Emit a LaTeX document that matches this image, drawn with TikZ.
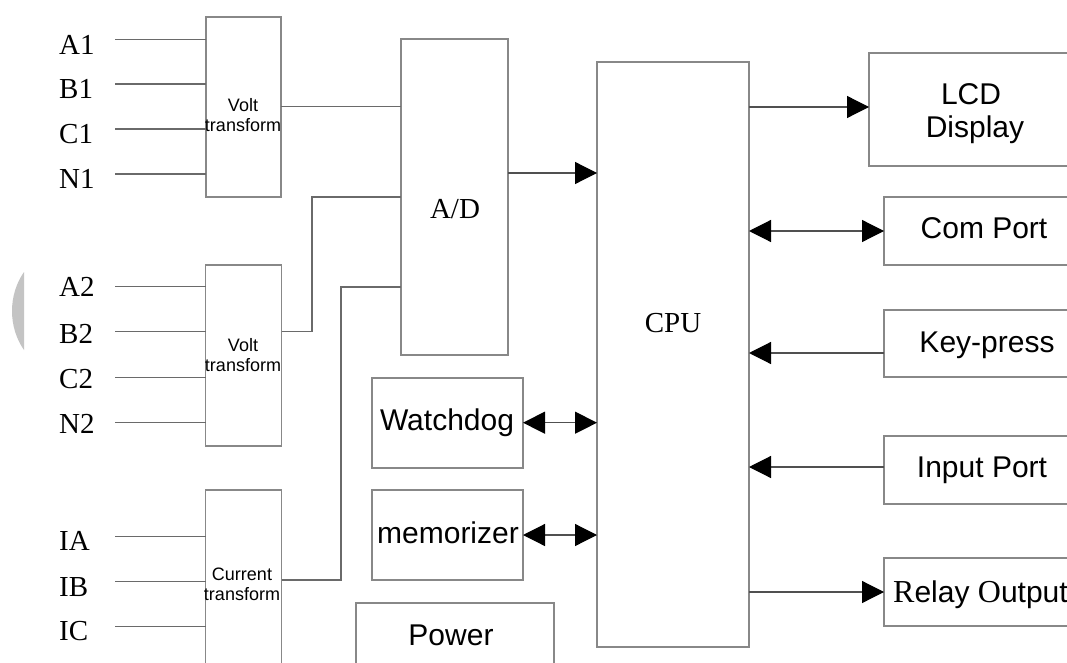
\documentclass[tikz,border=0pt]{standalone}
\usepackage{fontspec}
\setmainfont{Liberation Serif}
\setsansfont{Liberation Sans}
\newfontfamily\serifR{Liberation Serif}
\newfontfamily\sansT{Liberation Sans}
\usetikzlibrary{arrows.meta,calc}
\definecolor{wiregray}{HTML}{6A6A6A}
\definecolor{boxgray}{HTML}{888888}
\definecolor{blobgray}{HTML}{C4C4C4}
\tikzset{
  box/.style={draw=boxgray, line width=1.8pt, inner sep=0pt, outer sep=0pt, anchor=north west},
  wire/.style={draw=wiregray, line width=1.5pt},
  link/.style={draw=wiregray!75!black, line width=1.2pt},
  tipR/.style={-{Triangle[length=22pt,width=22pt,color=black]}},
  tipL/.style={{Triangle[length=22pt,width=22pt,color=black]}-},
  tipLR/.style={{Triangle[length=22pt,width=22pt,color=black]}-{Triangle[length=22pt,width=22pt,color=black]}},
  inlab/.style={font=\fontsize{29}{31}\selectfont, inner sep=0pt, anchor=base west},
  big/.style={font=\sffamily\fontsize{30}{33}\selectfont, inner sep=0pt, anchor=base},
  small/.style={font=\sffamily\fontsize{18}{20}\selectfont, inner sep=0pt, align=center},
  serifbig/.style={font=\fontsize{29}{31}\selectfont, inner sep=0pt, anchor=base},
}
\begin{document}
\begin{tikzpicture}[x=1pt,y=-1pt]
\useasboundingbox (0,0) rectangle (1067,663);
\clip (0,0) rectangle (1067,663);
\fill[white] (0,0) rectangle (1067,663);
% grey artefact at the left edge
\fill[blobgray] (24,272) .. controls (8,295) and (8,327) .. (24,350) -- cycle;

% ---------- boxes ----------
\node[box, minimum width=75pt, minimum height=180pt] (v1) at (205.7,16.7) {};
\node[box, minimum width=76pt, minimum height=180.7pt] (v2) at (205.5,265) {};
\node[box, minimum width=76pt, minimum height=220pt] (ct) at (205.5,490) {};
\node[box, minimum width=107pt, minimum height=316pt] (ad) at (401,39) {};
\node[box, minimum width=152pt, minimum height=585pt] (cpu) at (597,62) {};
\node[box, minimum width=151pt, minimum height=90pt] (wd) at (372,378) {};
\node[box, minimum width=151pt, minimum height=90pt] (mem) at (372,490) {};
\node[box, minimum width=198pt, minimum height=90pt] (pw) at (356,603) {};
\node[box, minimum width=220pt, minimum height=113pt] (lcd) at (869,53) {};
\node[box, minimum width=200pt, minimum height=68pt] (com) at (884,197) {};
\node[box, minimum width=200pt, minimum height=67pt] (key) at (884,310) {};
\node[box, minimum width=200pt, minimum height=68pt] (inp) at (884,436) {};
\node[box, minimum width=200pt, minimum height=68pt] (rel) at (884,558) {};

% ---------- texts in boxes ----------
\node[small] (v1t) at (243,115) {Volt\\transform};
\node[small] (v2t) at (243,355) {Volt\\transform};
\node[small] (ctt) at (242,584) {Current\\transform};
\node[serifbig] (adt) at (455,218) {A/D};
\node[serifbig] (cput) at (673,332) {CPU};
\node[big] (wdt) at (447,430) {Watchdog};
\node[big] (memt) at (448,543) {memorizer};
\node[big] (pwt) at (451,645) {Power};
\node[big] (lcdt1) at (971,105) {LCD};
\node[big] (lcdt2) at (975,138) {Display};
\node[big] (comt) at (984,238) {Com Port};
\node[big] (keyt) at (987,352) {Key-press};
\node[big] (inpt) at (982,477) {Input Port};
\node[font=\sansT\fontsize{30}{33}\selectfont, inner sep=0pt, anchor=base west] (relt) at (893,602.7)
  {{\serifR\fontsize{32}{34}\selectfont R}elay {\serifR\fontsize{32}{34}\selectfont O}utput};

% ---------- input labels and wires ----------
\node[inlab] (la1) at (59,55) {A1};
\node[inlab] (lb1) at (59,98.3) {B1};
\node[inlab] (lc1) at (59,144) {C1};
\node[inlab] (ln1) at (59,188.3) {N1};
\node[inlab] (la2) at (59,296.7) {A2};
\node[inlab] (lb2) at (59,343.3) {B2};
\node[inlab] (lc2) at (59,388.3) {C2};
\node[inlab] (ln2) at (59,433.3) {N2};
\node[inlab] (lia) at (59,550) {IA};
\node[inlab] (lib) at (59,596.7) {IB};
\node[inlab] (lic) at (59,640) {IC};

\coordinate (ia1) at (115,39.3);
\coordinate (ib1) at (115,84);
\coordinate (ic1) at (115,129);
\coordinate (in1) at (115,174);
\coordinate (ia2) at (115,286.7);
\coordinate (ib2) at (115,331.5);
\coordinate (ic2) at (115,377.5);
\coordinate (in2) at (115,422.5);
\coordinate (iia) at (115,536.7);
\coordinate (iib) at (115,581.7);
\coordinate (iic) at (115,626.7);
\foreach \c/\b in {ia1/v1,ib1/v1,ic1/v1,in1/v1,ia2/v2,ib2/v2,ic2/v2,in2/v2,iia/ct,iib/ct,iic/ct}
  \draw[wire] (\c) -- (\c -| \b.west);

% ---------- transform outputs to A/D ----------
\draw[wire] (v1.east) -- (v1.east -| ad.west);
\coordinate (j2) at (312,197);
\coordinate (o2) at (281.5,331.5);
\draw[wire] (o2) -| (j2) -- (j2 -| ad.west);
\coordinate (j3) at (341,287);
\coordinate (o3) at (281.5,580);
\draw[wire] (o3) -| (j3) -- (j3 -| ad.west);

% ---------- A/D to CPU ----------
\coordinate (adout) at (508,173);
\draw[link, tipR] (adout) -- (adout -| cpu.west);

% ---------- CPU peripherals ----------
\coordinate (lcdin) at (749,107);
\draw[link, tipR] (lcdin) -- (lcdin -| lcd.west);
\coordinate (comin) at (749,231);
\draw[link, tipLR] (comin) -- (comin -| com.west);
\coordinate (keyin) at (749,353);
\draw[link, tipL] (keyin) -- (keyin -| key.west);
\coordinate (inpin) at (749,467);
\draw[link, tipL] (inpin) -- (inpin -| inp.west);
\coordinate (relin) at (749,592);
\draw[link, tipR] (relin) -- (relin -| rel.west);
\coordinate (wdin) at (523,422.7);
\draw[link, tipLR] (wdin) -- (wdin -| cpu.west);
\coordinate (memin) at (523,535);
\draw[link, tipLR] (memin) -- (memin -| cpu.west);
\end{tikzpicture}
\end{document}
